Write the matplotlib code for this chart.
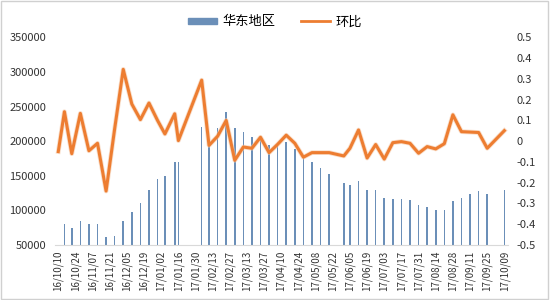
import numpy as np
import pandas as pd
import matplotlib
matplotlib.use("Agg")
import matplotlib.pyplot as plt
import matplotlib.dates as mdates
from matplotlib.lines import Line2D
from matplotlib.patches import Patch, Rectangle

plt.rcParams['font.family'] = ['Noto Sans CJK SC', 'DejaVu Sans']

# 日期（周度数据，横轴为日期轴）
dates = ["2016-10-10", "2016-10-15", "2016-10-21", "2016-10-28", "2016-11-04", "2016-11-11",
         "2016-11-18", "2016-11-25", "2016-12-02", "2016-12-09", "2016-12-16", "2016-12-23",
         "2016-12-30", "2017-01-05", "2017-01-13", "2017-01-16", "2017-02-04", "2017-02-10",
         "2017-02-17", "2017-02-24", "2017-03-03", "2017-03-10", "2017-03-17", "2017-03-24",
         "2017-03-31", "2017-04-07", "2017-04-14", "2017-04-21", "2017-04-28", "2017-05-05",
         "2017-05-12", "2017-05-19", "2017-05-31", "2017-06-05", "2017-06-12", "2017-06-19",
         "2017-06-26", "2017-07-03", "2017-07-10", "2017-07-17", "2017-07-24", "2017-07-31",
         "2017-08-07", "2017-08-14", "2017-08-21", "2017-08-28", "2017-09-04", "2017-09-11",
         "2017-09-18", "2017-09-25", "2017-10-09"]

# 华东地区
huadong = [np.nan, 80000, 74000, 85000, 81000, 80000,
           62000, 63000, 84000, 98000, 110000, 129500,
           145800, 150000, 169500, 169500, 220500, 200000,
           219800, 242200, 219800, 213300, 205800, 206000,
           194500, 194500, 198800, 188700, 175300, 169500,
           160800, 152200, 140300, 136000, 142500, 129500,
           128800, 117500, 116500, 116500, 114600, 108500,
           105600, 101000, 100600, 113100, 118400, 123300,
           128500, 123700, 129900]

# 环比
huanbi = [-0.05, 0.142, -0.06, 0.134, -0.046, -0.01,
          -0.24, 0.06, 0.346, 0.179, 0.104, 0.184,
          0.10, 0.035, 0.132, 0.003, 0.294, -0.02,
          0.024, 0.10, -0.092, -0.028, -0.034, 0.019,
          -0.055, -0.015, 0.029, -0.01, -0.077, -0.055,
          -0.055, -0.055, -0.071, -0.034, 0.054, -0.081,
          -0.016, -0.086, -0.007, -0.002, -0.01, -0.058,
          -0.026, -0.037, -0.012, 0.127, 0.046, 0.044,
          0.042, -0.034, 0.051]

x = mdates.date2num(pd.to_datetime(dates))
ticks = mdates.date2num(pd.date_range("2016-10-10", "2017-10-09", freq="14D"))

fig = plt.figure(figsize=(5.5, 3), dpi=100)
fig.patch.set_facecolor("white")
# 外框
fig.patches.append(Rectangle((0.002, 0.003), 0.995, 0.994, transform=fig.transFigure,
                             fill=False, edgecolor="#d0d0d0", lw=1))
ax = fig.add_axes([0.0993, 0.1833, 0.8244, 0.692])

ax.bar(x, huadong, width=1.3, color="#6b8fb8", zorder=2)
ax.set_ylim(50000, 350000)
ax.set_yticks(np.arange(50000, 350001, 50000))
ax.set_xlim(x[0] - 3, x[-1] + 3)
ax.set_xticks(ticks)
ax.xaxis.set_major_formatter(mdates.DateFormatter("%y/%m/%d"))
ax.tick_params(axis="x", rotation=90, labelsize=7, length=0, colors="#333333", pad=4)
ax.tick_params(axis="y", labelsize=8, length=0, colors="#333333", pad=6)
for s in ["top", "left", "right"]:
    ax.spines[s].set_visible(False)
ax.spines["bottom"].set_color("#d9d9d9")

ax2 = ax.twinx()
ax2.plot(x, huanbi, color="#f5c9a8", lw=3.4, alpha=0.6, zorder=2)
ax2.plot(x, huanbi, color="#ed7d31", lw=2.2, zorder=3)
ax2.set_ylim(-0.5, 0.5)
ax2.set_yticks(np.round(np.arange(-0.5, 0.51, 0.1), 1))
ax2.set_yticklabels(["0" if abs(v) < 1e-9 else "%.1f" % v for v in np.arange(-0.5, 0.51, 0.1)])
ax2.tick_params(axis="y", labelsize=8, length=0, colors="#333333", pad=6)
for s in ["top", "left", "right", "bottom"]:
    ax2.spines[s].set_visible(False)

handles = [Patch(color="#6b8fb8"), Line2D([0], [0], color="#ed7d31", lw=2)]
fig.legend(handles, ["华东地区", "环比"], loc="center", bbox_to_anchor=(0.5, 0.927),
           ncol=2, frameon=False, fontsize=9.5, handlelength=2.2, handleheight=0.35,
           columnspacing=2.0, handletextpad=0.4)

fig.savefig("out.png", dpi=100, facecolor="white")
